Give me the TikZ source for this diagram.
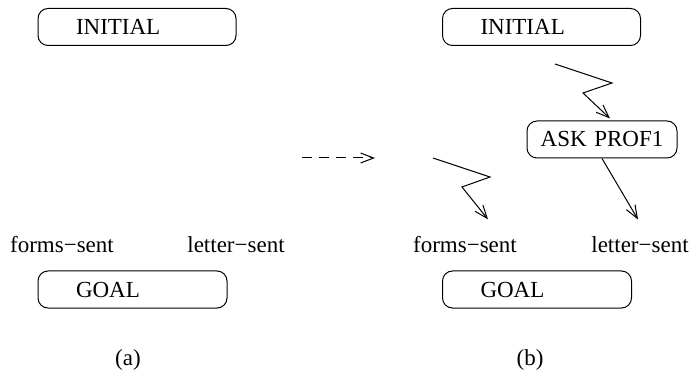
\documentclass[tikz,border=0pt]{standalone}
\usepackage{fontspec}
\setmainfont{Liberation Serif}
\usetikzlibrary{arrows.meta}
\tikzset{
  state/.style={draw, line width=0.5pt, rounded corners=5pt, minimum height=18.5pt, align=left, inner xsep=19pt},
  lbl/.style={inner sep=1pt},
  arr/.style={line width=0.5pt, -{Straight Barb[length=6.5pt,width=5pt,line width=0.5pt]}}
}
\begin{document}
\begin{tikzpicture}[x=0.5pt,y=-0.5pt,font=\fontsize{11.5}{13}\selectfont]
\useasboundingbox (0,0) rectangle (689,389);
\node[state, text width=61pt] (iniA) at (137,27){INITIAL};
\node[state, text width=56.5pt] (goalA) at (132.5,289.5){GOAL};
\node[lbl] (fsA) at (62,245){forms−sent};
\node[lbl] (lsA) at (236,245){letter−sent};
\node[lbl] (capA) at (128,360){(a)};
\coordinate (dashS) at (302,158);
\coordinate (dashE) at (375,158);
\draw[arr, dashed, dash pattern=on 5pt off 3.5pt](dashS) -- (dashE);
\node[state, text width=63pt, inner xsep=6pt, align=center] (ask) at (602,139.5){ASK PROF1};
\node[state, text width=61pt] (iniB) at (541.5,27){INITIAL};
\node[state, text width=56.5pt] (goalB) at (537,289.5){GOAL};
\node[lbl] (fsB) at (465,245){forms−sent};
\node[lbl] (lsB) at (640,245){letter−sent};
\node[lbl] (capB) at (530,360){(b)};
\coordinate (zzA) at (555,64);
\coordinate (zzAb) at (612,83);
\coordinate (zzAc) at (583,93);
\draw[arr](zzA) -- (zzAb) -- (zzAc) -- ([xshift=4pt,yshift=1pt]ask.north);
\coordinate (zzB) at (433,158);
\coordinate (zzBb) at (490,177);
\coordinate (zzBc) at (462,187);
\draw[arr](zzB) -- (zzBb) -- (zzBc) -- ([shift={(11.5pt,7.5pt)}]fsB.north);
\draw[arr](ask.south) -- ([shift={(-1pt,7.5pt)}]lsB.north);
\end{tikzpicture}
\end{document}
